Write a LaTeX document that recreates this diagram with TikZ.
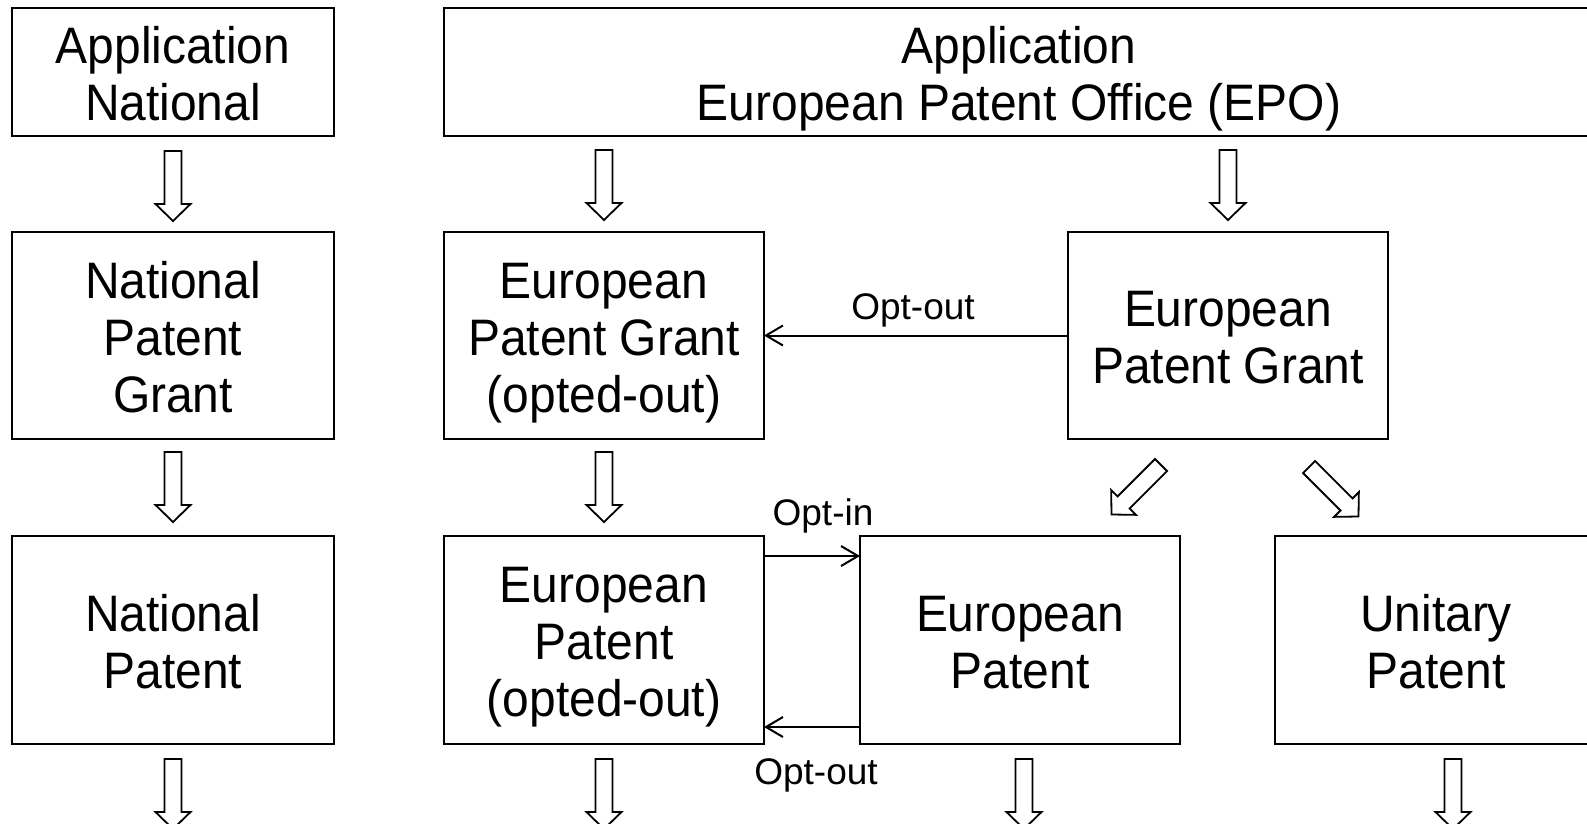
\documentclass[tikz,border=0pt]{standalone}
\usepackage{fontspec}
\setmainfont{Liberation Sans}
\newfontfamily\bigfont{Liberation Sans}[FakeStretch=0.935]
\usetikzlibrary{arrows.meta,calc}
\newcommand\tops{\rule{0pt}{50pt}}
\newcommand\bots{\rule[-11pt]{0pt}{11pt}}
\begin{document}
\begin{tikzpicture}[x=1pt,y=-1pt,
  box/.style={draw, line width=2.4pt, outer sep=0pt, align=center, inner sep=0pt, font=\bigfont\fontsize{51.3}{57}\selectfont},
  wbox/.style={box, minimum width=322pt, minimum height=207pt},
  conn/.style={line width=2pt, -{Straight Barb[length=17pt,width=20pt]}},
  lab/.style={font=\fontsize{37}{42}\selectfont, inner sep=0pt},
  barrow/.style={draw, line width=1.8pt, line join=miter, fill=white},
  blockarrow/.pic={\path[barrow] (-8.5,0) -- (-8.5,53) -- (-17.5,53) -- (0,70) -- (17.5,53) -- (8.5,53) -- (8.5,0) -- cycle;}
]
\path[use as bounding box] (0,0) rectangle (1587,823);
\clip (0,0) rectangle (1587,823);

% row 1
\node[box, minimum width=322pt, minimum height=128pt] (appnat) at (173,72) {\tops Application\\National\bots};
\node[box, minimum width=1150pt, minimum height=128pt] (epo) at (1019,72) {\tops Application\\European Patent Office (EPO)\bots};

% row 2
\node[wbox] (npg) at (173,335.5) {\tops National\\Patent\\Grant\bots};
\node[wbox, minimum width=320pt] (ego) at (604,335.5) {\tops European\\Patent Grant\\(opted-out)\bots};
\node[wbox, minimum width=320pt] (epg) at (1228,335.5) {\tops European\\Patent Grant\bots};

% row 3
\node[wbox, minimum height=208pt] (np) at (173,640) {\tops National\\Patent\bots};
\node[wbox, minimum width=320pt, minimum height=208pt] (eop) at (604,640) {\tops European\\Patent\\(opted-out)\bots};
\node[wbox, minimum width=320pt, minimum height=208pt] (ep) at (1020,640) {\tops European\\Patent\bots};
\node[wbox, minimum height=208pt] (up) at (1436,640) {\tops Unitary\\Patent\bots};

% connectors
\draw[conn] (epg.west) -- node[lab, midway, xshift=-3pt, yshift=25pt] (lo1) {Opt-out} (ego.east);
\coordinate (oi1) at ($(eop.north east)+(0,20)$);
\draw[conn] (oi1) -- node[lab, midway, xshift=11pt, yshift=40pt] (li) {Opt-in} (oi1 -| ep.west);
\coordinate (oo1) at ($(ep.south west)+(0,-17)$);
\draw[conn] (oo1) -- node[lab, midway, xshift=4pt, yshift=-48pt] (lo2) {Opt-out} (oo1 -| eop.east);

% block arrows
\pic at ($(appnat.south)+(0,15)$) {blockarrow};
\pic at ($(ego.north |- epo.south)+(0,14)$) {blockarrow};
\pic at ($(epg.north |- epo.south)+(0,14)$) {blockarrow};
\pic at ($(npg.south)+(0,13)$) {blockarrow};
\pic at ($(ego.south)+(0,13)$) {blockarrow};
\pic[rotate=-45] at ($(epg.south)+(-67,26)$) {blockarrow};
\pic[rotate=45] at ($(epg.south)+(81,28)$) {blockarrow};
\pic at ($(np.south)+(0,15)$) {blockarrow};
\pic at ($(eop.south)+(0,15)$) {blockarrow};
\pic at ($(ep.south)+(4,15)$) {blockarrow};
\pic at ($(up.south)+(17,15)$) {blockarrow};
\end{tikzpicture}
\end{document}
